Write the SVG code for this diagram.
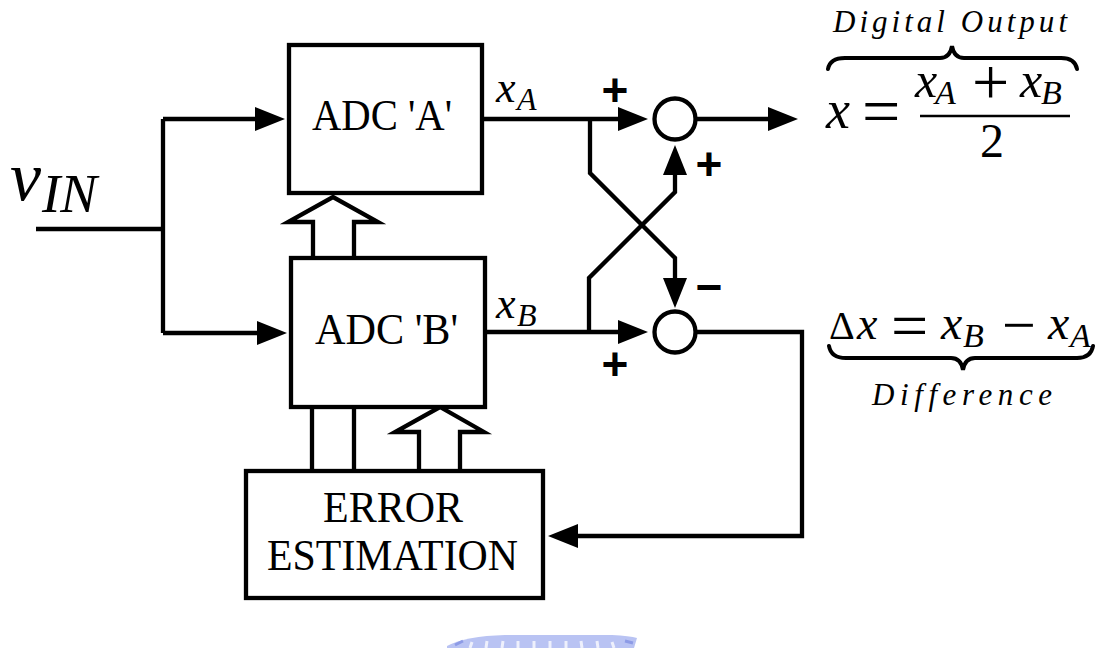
<svg xmlns="http://www.w3.org/2000/svg" width="1097" height="648" viewBox="0 0 1097 648">
<style>
.ln{fill:none;stroke:#000;stroke-width:4.3;stroke-linejoin:miter}
.box{fill:#fff;stroke:#000;stroke-width:4.3}
.hol{fill:#fff;stroke:#000;stroke-width:4.3;stroke-linejoin:miter}
.t{font-family:"Liberation Serif","Times New Roman",serif;fill:#000}
.i{font-family:"Liberation Serif","Times New Roman",serif;font-style:italic;fill:#000}
.sg{font-family:"Liberation Sans",Arial,sans-serif;font-weight:bold;font-size:46px;fill:#000;text-anchor:middle}
.br{fill:none;stroke:#000;stroke-width:4;stroke-linecap:round}
</style>
<defs>
<marker id="ah" markerUnits="userSpaceOnUse" markerWidth="32" markerHeight="26" refX="20" refY="12" orient="auto">
<path d="M0,0 L30,12 L0,24 z" fill="#000"/>
</marker>
</defs>
<rect width="1097" height="648" fill="#fff"/>

<g id="watermark">
<path d="M447,648 L447,646 Q466,636 505,635 L612,635 Q630,636 637,638 L634,648 Z" fill="#b9c3f3"/>
<path d="M470,648 l2,-6 M486,648 l1,-7 M502,648 l1,-7 M518,648 l0,-7 M534,648 l0,-7 M550,648 l0,-7 M566,648 l0,-7 M582,648 l-1,-7 M598,648 l-1,-7 M614,648 l-2,-6" stroke="#eef0fc" stroke-width="3" fill="none"/>
<path d="M455,645 l8,-4 M625,641 l8,2" stroke="#8d9be6" stroke-width="3" fill="none"/>
</g>

<g id="connectors">
<path class="ln" d="M36,229 H163"/>
<path class="ln" d="M163,119 V333"/>
<path class="ln" d="M163,119 H275" marker-end="url(#ah)"/>
<path class="ln" d="M163,333 H277" marker-end="url(#ah)"/>
<path class="ln" d="M482,119 H638" marker-end="url(#ah)"/>
<path class="ln" d="M485,332 H638" marker-end="url(#ah)"/>
<path class="ln" d="M590,119 V173 L675,258 V298" marker-end="url(#ah)"/>
<path class="ln" d="M589,332 V278 L675,192 V155" marker-end="url(#ah)"/>
<path class="ln" d="M696,119 H788" marker-end="url(#ah)"/>
<path class="ln" d="M696,332 H802 V536 H558" marker-end="url(#ah)"/>
<path class="ln" d="M312,407 V471 M354,407 V471"/>
<path class="hol" d="M313,258 V222 H288 L333,197 L378,222 H354 V258"/>
<path class="hol" d="M419,471 V432 H395 L440,407 L484,432 H460 V471"/>
</g>

<g id="vin">
<text class="i" x="10" y="200" font-size="70">v</text>
<text class="i" x="42" y="212" font-size="55">IN</text>
</g>

<g id="adcA">
<rect class="box" x="289" y="45" width="193" height="148"/>
<text class="t" x="312" y="130" font-size="45" textLength="140" lengthAdjust="spacingAndGlyphs">ADC 'A'</text>
</g>

<g id="adcB">
<rect class="box" x="291" y="258" width="194" height="149"/>
<text class="t" x="315" y="344" font-size="45" textLength="143" lengthAdjust="spacingAndGlyphs">ADC 'B'</text>
</g>

<g id="error">
<rect class="box" x="246" y="471" width="297" height="127"/>
<text class="t" x="323" y="522" font-size="44" textLength="140" lengthAdjust="spacingAndGlyphs">ERROR</text>
<text class="t" x="267" y="570" font-size="44" textLength="251" lengthAdjust="spacingAndGlyphs">ESTIMATION</text>
</g>

<g id="labels">
<text class="i" x="496" y="102" font-size="44">x</text>
<text class="i" x="517" y="110" font-size="32">A</text>
<text class="i" x="496" y="318" font-size="44">x</text>
<text class="i" x="517" y="326" font-size="32">B</text>
<text class="sg" x="615" y="106">+</text>
<text class="sg" x="709" y="180">+</text>
<text class="sg" x="709" y="303">−</text>
<text class="sg" x="615" y="380">+</text>
</g>

<g id="sumTop">
<circle cx="675" cy="119" r="20.5" fill="#fff" stroke="#000" stroke-width="4.3"/>
</g>
<g id="sumBottom">
<circle cx="675" cy="332" r="20.5" fill="#fff" stroke="#000" stroke-width="4.3"/>
</g>

<g id="digitalOutput">
<text class="i" x="833" y="32" font-size="31" textLength="234" lengthAdjust="spacing">Digital Output</text>
<path class="br" d="M828,69 Q830,58 845,58 L940,58 Q950,58 952,46 Q954,58 964,58 L1061,58 Q1075,58 1077,69"/>
<text class="i" x="826" y="128" font-size="54">x</text>
<text class="t" x="862" y="134" font-size="68">=</text>
<text class="i" x="915" y="97" font-size="50">x</text>
<text class="i" x="935" y="104" font-size="34">A</text>
<text class="t" x="972" y="104" font-size="66">+</text>
<text class="i" x="1020" y="97" font-size="50">x</text>
<text class="i" x="1041" y="104" font-size="34">B</text>
<path d="M920,116 H1070" stroke="#000" stroke-width="2.5"/>
<text class="t" x="980" y="157" font-size="48">2</text>
</g>

<g id="difference">
<text class="t" x="829" y="339" font-size="40">Δ</text>
<text class="i" x="857" y="339" font-size="46">x</text>
<text class="t" x="891" y="348" font-size="66">=</text>
<text class="i" x="941" y="339" font-size="48">x</text>
<text class="i" x="963" y="347" font-size="34">B</text>
<text class="t" x="1002" y="345" font-size="60">−</text>
<text class="i" x="1048" y="339" font-size="48">x</text>
<text class="i" x="1070" y="347" font-size="34">A</text>
<path class="br" d="M829,346 Q831,358 846,358 L951,358 Q961,358 963,370 Q965,358 975,358 L1077,358 Q1091,358 1093,346"/>
<text class="i" x="872" y="405" font-size="31" textLength="180" lengthAdjust="spacing">Difference</text>
</g>
</svg>
